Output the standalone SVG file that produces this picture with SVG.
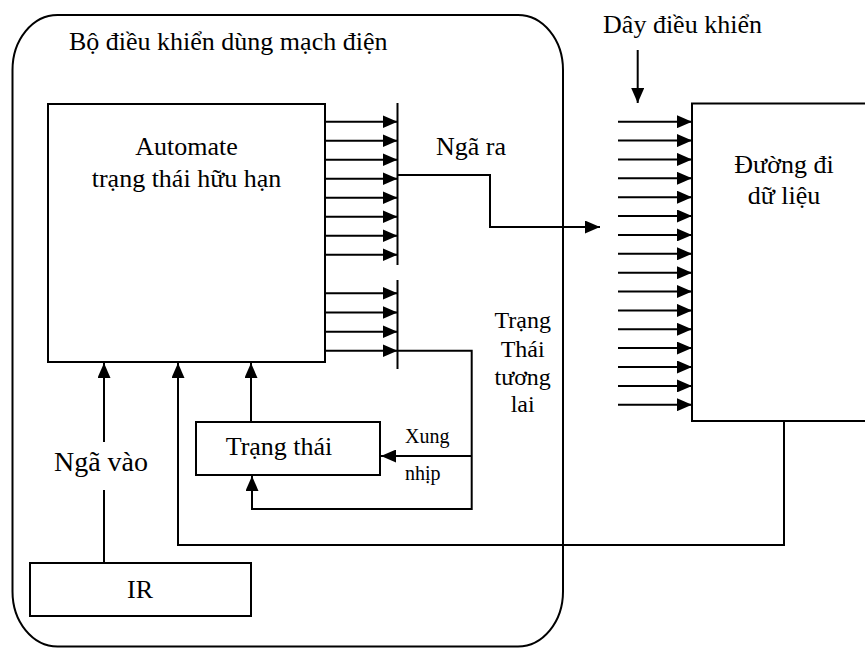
<svg xmlns="http://www.w3.org/2000/svg" width="865" height="648" viewBox="0 0 865 648">
<defs>
<marker id="ah" viewBox="0 0 15 13" refX="15" refY="6.5" markerWidth="15" markerHeight="13" markerUnits="userSpaceOnUse" orient="auto">
<path d="M0,0 L15,6.5 L0,13 Z" fill="#000"/>
</marker>
<style>
text{font-family:"Liberation Serif","Times New Roman","DejaVu Serif",serif;fill:#000;font-size:26px}
.s{font-size:20px}
.m{font-size:24px}
.l{font-size:28px}
.box{fill:#fff;stroke:#000;stroke-width:2}
.ln{fill:none;stroke:#000;stroke-width:2}
.ar{fill:none;stroke:#000;stroke-width:2;marker-end:url(#ah)}
</style>
</defs>
<rect width="865" height="648" fill="#fff"/>
<g id="controller">
<rect x="12.5" y="15" width="550.5" height="631.5" rx="45" ry="55" class="box"/>
<text x="69" y="50">Bộ điều khiển dùng mạch điện</text>
</g>
<g id="fsm">
<rect x="48" y="104" width="277" height="258" class="box"/>
<text x="186.5" y="155" text-anchor="middle">Automate</text>
<text x="186.5" y="187" text-anchor="middle">trạng thái hữu hạn</text>
</g>
<g id="state">
<rect x="196" y="422" width="184" height="53" class="box"/>
<text x="279" y="455" text-anchor="middle">Trạng thái</text>
</g>
<g id="ir">
<rect x="30" y="563" width="221" height="53" class="box"/>
<text x="140" y="598" text-anchor="middle">IR</text>
</g>
<g id="datapath">
<rect x="692" y="103.5" width="180" height="317.5" class="box"/>
<text x="784" y="173" text-anchor="middle">Đường đi</text>
<text x="784" y="204" text-anchor="middle">dữ liệu</text>
</g>
<g id="connectors">
<g id="outputs-bus">
<line x1="325" y1="121.7" x2="397.5" y2="121.7" class="ar"/>
<line x1="325" y1="140.7" x2="397.5" y2="140.7" class="ar"/>
<line x1="325" y1="159.7" x2="397.5" y2="159.7" class="ar"/>
<line x1="325" y1="178.7" x2="397.5" y2="178.7" class="ar"/>
<line x1="325" y1="197.7" x2="397.5" y2="197.7" class="ar"/>
<line x1="325" y1="216.7" x2="397.5" y2="216.7" class="ar"/>
<line x1="325" y1="235.7" x2="397.5" y2="235.7" class="ar"/>
<line x1="325" y1="254.7" x2="397.5" y2="254.7" class="ar"/>
<line x1="397.5" y1="103" x2="397.5" y2="265" class="ln"/>
<polyline points="397.5,175 490,175 490,227 600,227" class="ar"/>
</g>
<g id="next-state-bus">
<line x1="325" y1="293.3" x2="397.5" y2="293.3" class="ar"/>
<line x1="325" y1="312.5" x2="397.5" y2="312.5" class="ar"/>
<line x1="325" y1="331.7" x2="397.5" y2="331.7" class="ar"/>
<line x1="325" y1="350.7" x2="397.5" y2="350.7" class="ar"/>
<line x1="397.5" y1="280" x2="397.5" y2="369" class="ln"/>
<polyline points="397.5,350.7 471.7,350.7 471.7,509 252,509 252,476" class="ar"/>
<line x1="471.7" y1="456" x2="381" y2="456" class="ar"/>
</g>
<line x1="251" y1="422" x2="251" y2="363" class="ar"/>
<polyline points="784,421 784,545 178,545 178,363" class="ar"/>
<line x1="104" y1="563" x2="104" y2="490" class="ln"/>
<line x1="104" y1="442" x2="104" y2="363" class="ar"/>
<line x1="637.7" y1="50" x2="637.7" y2="103" class="ar"/>
<g id="control-lines">
<line x1="618" y1="121.7" x2="692" y2="121.7" class="ar"/>
<line x1="618" y1="140.6" x2="692" y2="140.6" class="ar"/>
<line x1="618" y1="159.4" x2="692" y2="159.4" class="ar"/>
<line x1="618" y1="178.3" x2="692" y2="178.3" class="ar"/>
<line x1="618" y1="197.2" x2="692" y2="197.2" class="ar"/>
<line x1="618" y1="216" x2="692" y2="216" class="ar"/>
<line x1="618" y1="234.9" x2="692" y2="234.9" class="ar"/>
<line x1="618" y1="253.8" x2="692" y2="253.8" class="ar"/>
<line x1="618" y1="272.7" x2="692" y2="272.7" class="ar"/>
<line x1="618" y1="291.5" x2="692" y2="291.5" class="ar"/>
<line x1="618" y1="310.4" x2="692" y2="310.4" class="ar"/>
<line x1="618" y1="329.3" x2="692" y2="329.3" class="ar"/>
<line x1="618" y1="348.1" x2="692" y2="348.1" class="ar"/>
<line x1="618" y1="367" x2="692" y2="367" class="ar"/>
<line x1="618" y1="385.9" x2="692" y2="385.9" class="ar"/>
<line x1="618" y1="404.7" x2="692" y2="404.7" class="ar"/>
</g>
</g>
<g id="labels">
<text x="436" y="155">Ngã ra</text>
<text x="682.5" y="33" text-anchor="middle">Dây điều khiển</text>
<text x="522.7" y="328" text-anchor="middle" class="m">Trạng</text>
<text x="522.7" y="356.5" text-anchor="middle" class="m">Thái</text>
<text x="522.7" y="385" text-anchor="middle" class="m">tương</text>
<text x="522.7" y="411.5" text-anchor="middle" class="m">lai</text>
<text x="405" y="443" class="s">Xung</text>
<text x="405" y="480" class="s">nhịp</text>
<text x="101" y="471" text-anchor="middle" class="l">Ngã vào</text>
</g>
</svg>
